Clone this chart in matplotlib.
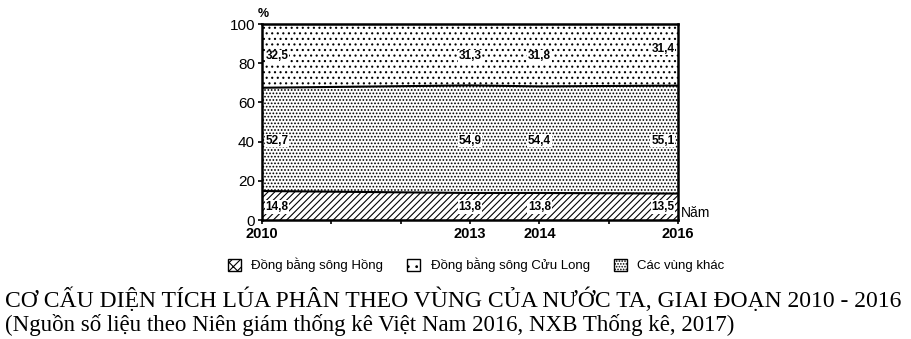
import matplotlib.pyplot as plt
import matplotlib as mpl
import matplotlib.patches as mpatches

years = [2010, 2013, 2014, 2016]
dbsh = [14.8, 13.8, 13.8, 13.5]
dbscl = [52.7, 54.9, 54.4, 55.1]
khac = [32.5, 31.3, 31.8, 31.4]
names = ['Đồng bằng sông Hồng', 'Đồng bằng sông Cửu Long', 'Các vùng khác']

mpl.rcParams['hatch.linewidth'] = 0.8
mpl.rcParams['font.family'] = 'Liberation Sans'

fig = plt.figure(figsize=(9.12, 3.39), dpi=100)
ax = fig.add_axes([0.2873, 0.351, 0.4561, 0.578])

lo = [0] * len(years)
mid = [a + b for a, b in zip(dbsh, dbscl)]
top = [a + b for a, b in zip(mid, khac)]
hatches = ['/////', '.....', '...']
layers = [(lo, dbsh), (dbsh, mid), (mid, top)]
for (y0, y1), h in zip(layers, hatches):
    ax.fill_between(years, y0, y1, facecolor='white', edgecolor='black',
                    hatch=h, linewidth=0)
ax.plot(years, dbsh, color='black', lw=1.5)
ax.plot(years, mid, color='black', lw=1.5)

# legend icons as printed in the source
leg_hatch = ['xx//', '..', '......']
handles = [mpatches.Patch(facecolor='white', edgecolor='black', hatch=h,
                          linewidth=1.0, label=n)
           for h, n in zip(leg_hatch, names)]

# value labels
box = dict(facecolor='white', edgecolor='none', pad=0.6)
for i, x in enumerate(years):
    ha = 'left' if i == 0 else ('right' if i == len(years) - 1 else 'center')
    dx = 0.05 if i == 0 else (-0.05 if i == len(years) - 1 else 0)
    ax.text(x + dx, 6.5, f'{dbsh[i]}'.replace('.', ','), ha=ha, va='center',
            fontsize=8.5, fontweight='bold', bbox=box)
    ax.text(x + dx, 40.5, f'{dbscl[i]}'.replace('.', ','), ha=ha, va='center',
            fontsize=8.5, fontweight='bold', bbox=box)
    yk = 87.5 if i == len(years) - 1 else 83.5
    ax.text(x + dx, yk, f'{khac[i]}'.replace('.', ','), ha=ha, va='center',
            fontsize=8.5, fontweight='bold', bbox=box)

ax.set_xlim(2010, 2016)
ax.set_ylim(0, 100)
ax.set_xticks(range(2010, 2017))
ax.set_xticklabels([str(y) if y in years else '' for y in range(2010, 2017)],
                   fontsize=10.5, fontweight='bold')
ax.set_yticks(range(0, 101, 20))
ax.set_yticklabels([str(v) for v in range(0, 101, 20)], fontsize=11)
ax.tick_params(length=3, width=1.2, pad=2)
for s in ax.spines.values():
    s.set_linewidth(1.8)

ax.text(-0.01, 1.02, '%', transform=ax.transAxes, fontsize=9, fontweight='bold',
        ha='left', va='bottom')
ax.text(1.008, 0.0, 'Năm', transform=ax.transAxes, fontsize=10,
        ha='left', va='bottom')

fig.legend(handles=handles, loc='center', bbox_to_anchor=(0.522, 0.218),
           ncol=3, frameon=False, fontsize=9.5, handlelength=1.0,
           handleheight=1.0, columnspacing=1.8, handletextpad=0.8)

fig.text(0.005, 0.115, 'CƠ CẤU DIỆN TÍCH LÚA PHÂN THEO VÙNG CỦA NƯỚC TA, GIAI ĐOẠN 2010 - 2016',
         family='Liberation Serif', fontsize=17, ha='left', va='center')
fig.text(0.005, 0.04, '(Nguồn số liệu theo Niên giám thống kê Việt Nam 2016, NXB Thống kê, 2017)',
         family='Liberation Serif', fontsize=16.5, ha='left', va='center')

fig.savefig('out.png', dpi=100)
